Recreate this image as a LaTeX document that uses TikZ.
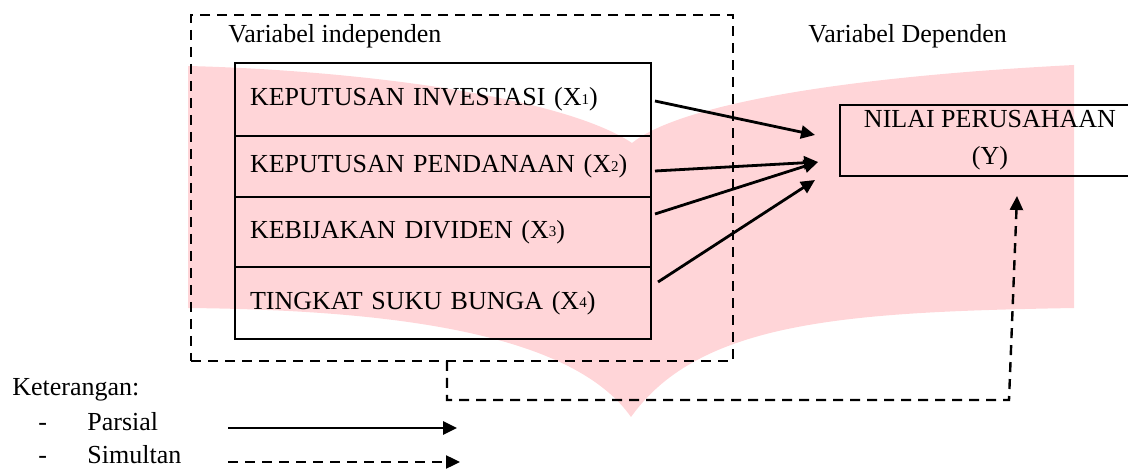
\documentclass[tikz,border=0pt]{standalone}
\usepackage{fontspec}
\setmainfont{Liberation Serif}
\usetikzlibrary{positioning,calc,arrows.meta}
\definecolor{WMark}{HTML}{FFD5D8}
\newcommand{\xsub}[1]{\raisebox{0.8pt}{\fontsize{7.5}{7.5}\selectfont #1}}

\begin{document}
\begin{tikzpicture}[x=0.5pt, y=-0.5pt,
  every node/.style={font=\fontsize{13}{18.5}\selectfont, inner sep=0pt},
  varbox/.style={draw, line width=1.1pt, outer sep=0pt, text width=193pt, inner xsep=7.5pt, align=left},
  depbox/.style={draw, line width=1.1pt, minimum width=150pt, minimum height=35.5pt, align=center},
  groupbox/.style={draw, dash pattern=on 5pt off 3.5pt, line width=1.2pt,
                   minimum width=271pt, minimum height=173pt},
  parsial/.style={-{Triangle[length=7pt,width=6.5pt]}, line width=1.4pt},
  simultan/.style={parsial, dash pattern=on 5pt off 3.5pt, line width=1.2pt},
  lbl/.style={anchor=base west},
  watermark/.style={fill=WMark},
]
\clip (0,0) rectangle (1128,469);
\path[watermark] (188,66) .. controls (350,70) and (560,95) .. (632,143)
  .. controls (675,108) and (820,78) .. (1074,65) -- (1074,308)
  .. controls (850,312) and (700,320) .. (631,417)
  .. controls (570,330) and (380,310) .. (188,308) -- cycle;

\node[groupbox] (indep) at (462,188) {};
\node[lbl] (indeplbl) at (228,43) {Variabel independen};
\node[lbl] (deplbl) at (808,43) {Variabel Dependen};

\node[varbox, minimum height=36.5pt] (x1) at (443,99.5) {KEPUTUSAN INVESTASI (X\xsub{1})};
\node[varbox, minimum height=30.5pt, below=0pt of x1] (x2) {KEPUTUSAN PENDANAAN (X\xsub{2})};
\node[varbox, minimum height=35pt, below=0pt of x2] (x3) {KEBIJAKAN DIVIDEN (X\xsub{3})};
\node[varbox, minimum height=36pt, below=0pt of x3] (x4) {TINGKAT SUKU BUNGA (X\xsub{4})};
\node[depbox] (y) at (990,140.5) {NILAI PERUSAHAAN\\(Y)};

\coordinate (tip1) at (815,135);
\coordinate (tip2) at (818,162);
\coordinate (tip3) at (815,180);
\draw[parsial] ([shift={(2pt,-0.75pt)}]x1.east) -- (tip1);
\draw[parsial] ([shift={(2pt,-2.25pt)}]x2.east) -- (tip2);
\draw[parsial] ([shift={(2pt,9pt)}]x3.east) -- (tip2);
\draw[parsial] ([shift={(3.5pt,10.5pt)}]x4.east) -- (tip3);

\coordinate (sim0) at (447,361);
\coordinate (sim1) at (1009,400);
\coordinate (simtip) at (1017,196);
\draw[simultan] (sim0) |- (sim1) -- (simtip);

\node[lbl] (ket) at (12,396) {Keterangan:};
\node[lbl] (dash1) at (38,430) {-};
\node[lbl] (pars) at (87,430) {Parsial};
\node[lbl] (dash2) at (38,464) {-};
\node[lbl] (simu) at (87,464) {Simultan};
\coordinate (parsA) at (228,428);
\coordinate (parsB) at (457,428);
\coordinate (simuA) at (228,462);
\coordinate (simuB) at (460,462);
\draw[parsial] (parsA) -- (parsB);
\draw[simultan] (simuA) -- (simuB);
\end{tikzpicture}
\end{document}
